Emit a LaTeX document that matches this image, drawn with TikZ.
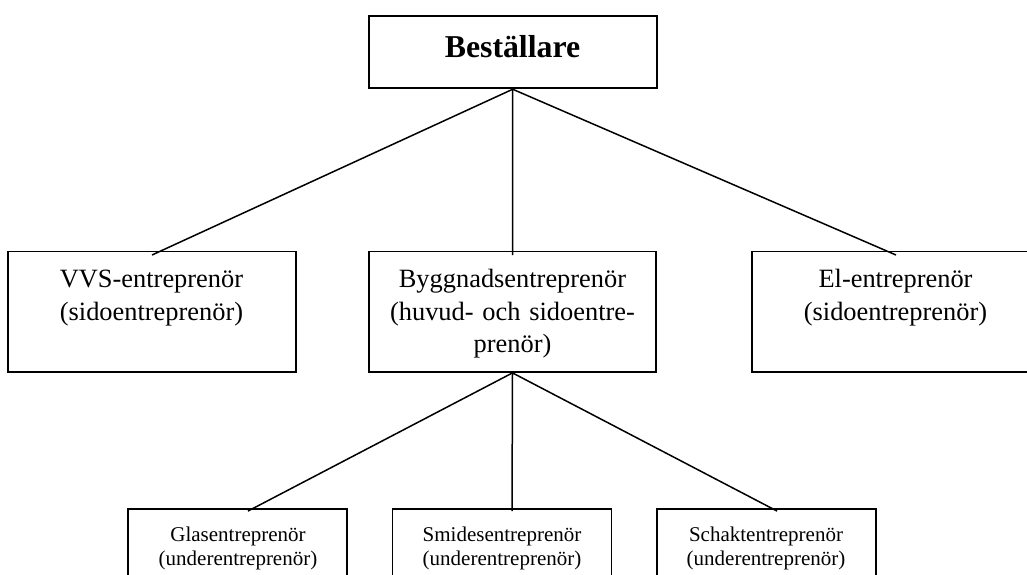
\documentclass[tikz,border=0pt]{standalone}
\usepackage{fontspec}
\setmainfont{Liberation Serif}
\usetikzlibrary{calc}
\tikzset{
  box/.style={draw, rectangle, line width=1.9pt, inner sep=0pt, fill=none},
  midbox/.style={box, minimum width=288pt, minimum height=120.5pt},
  lowbox/.style={box, minimum width=219pt, minimum height=92pt},
  midtxt/.style={anchor=base, inner sep=0pt, align=center, text width=280pt,
    font=\fontsize{26.4}{32.3}\selectfont},
  lowtxt/.style={anchor=base, inner sep=0pt, align=center, text width=210pt,
    font=\fontsize{21}{23.3}\selectfont},
  conn/.style={line width=1.5pt}
}
\begin{document}
\begin{tikzpicture}[x=1pt,y=-1pt]
\clip (0,0) rectangle (1027,575);
\useasboundingbox (0,0) rectangle (1027,575);
% top
\node[box, minimum width=288pt, minimum height=72.6pt] (top) at (512.7,52) {};
\node[anchor=base, inner sep=0pt, font=\fontsize{31.8}{38}\selectfont\bfseries] (topt) at (512.5,58) {Beställare};
% middle row
\node[midbox] (vvs) at (152,311.7) {};
\node[midbox, minimum width=287pt] (bygg) at (512.5,311.7) {};
\node[midbox] (el) at (896,311.7) {};
\node[midtxt] (vvst) at (151.5,287.7) {VVS-entreprenör\\(sidoentreprenör)};
\node[midtxt] (byggt) at (512.5,287.7) {Byggnadsentreprenör\\(huvud- och sidoentre-\\prenör)};
\node[midtxt] (elt) at (895.5,287.7) {El-entreprenör\\(sidoentreprenör)};
% bottom row
\node[lowbox] (glas) at (237.7,555) {};
\node[lowbox] (smide) at (502,555) {};
\node[lowbox] (schakt) at (766.5,555) {};
\node[lowtxt] (glast) at (238,541.7) {Glasentreprenör\\(underentreprenör)};
\node[lowtxt] (smidet) at (502,541.7) {Smidesentreprenör\\(underentreprenör)};
\node[lowtxt] (schaktt) at (766,541.7) {Schaktentreprenör\\(underentreprenör)};
% connectors
\draw[conn] (top.south) -- ($(vvs.north)+(0,4.5)$);
\draw[conn] (top.south) -- ($(bygg.north)+(0,4.5)$);
\draw[conn] (top.south) -- ($(el.north)+(0,4.5)$);
\draw[conn] (bygg.south) -- ($(glas.north)+(10.3,3)$);
\draw[conn] (bygg.south) -- ($(smide.north)+(10,3)$);
\draw[conn] (bygg.south) -- ($(schakt.north)+(10.5,3)$);
\end{tikzpicture}
\end{document}
